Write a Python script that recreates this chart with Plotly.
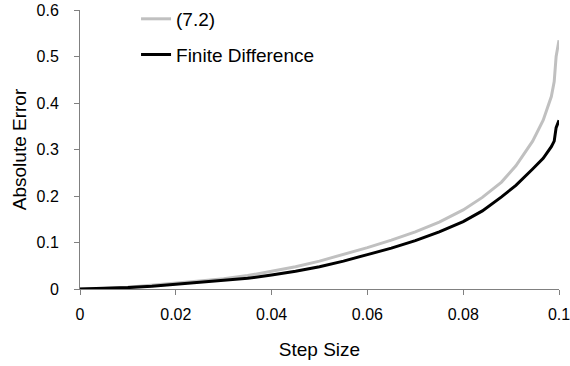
import plotly.graph_objects as go

step_size = [0, 0.005, 0.01, 0.015, 0.02, 0.025, 0.03, 0.035, 0.04, 0.045, 0.05,
             0.055, 0.06, 0.065, 0.07, 0.075, 0.08, 0.084, 0.088, 0.091, 0.0945,
             0.0967, 0.0984, 0.099, 0.0994, 0.1]
err_72 = [0, 0.001, 0.004, 0.008, 0.013, 0.017, 0.022, 0.029, 0.038, 0.048, 0.060,
          0.074, 0.089, 0.105, 0.123, 0.144, 0.170, 0.197, 0.230, 0.265, 0.318,
          0.363, 0.414, 0.446, 0.500, 0.535]
err_fd = [0, 0.001, 0.003, 0.006, 0.010, 0.014, 0.018, 0.023, 0.030, 0.038, 0.048,
          0.060, 0.074, 0.088, 0.104, 0.123, 0.145, 0.168, 0.198, 0.223, 0.258,
          0.281, 0.306, 0.318, 0.347, 0.363]

x_ticks = [0, 0.02, 0.04, 0.06, 0.08, 0.1]
x_tick_labels = ["0", "0.02", "0.04", "0.06", "0.08", "0.1"]
y_ticks = [0, 0.1, 0.2, 0.3, 0.4, 0.5, 0.6]
y_tick_labels = ["0", "0.1", "0.2", "0.3", "0.4", "0.5", "0.6"]

FONT = "Liberation Sans, Arial, sans-serif"

fig = go.Figure()
fig.add_trace(go.Scatter(x=step_size, y=err_72, mode="lines", name="(7.2)",
                         legendgroup="a",
                         line=dict(color="#c0c0c0", width=3)))
fig.add_trace(go.Scatter(x=step_size, y=err_fd, mode="lines", name="Finite Difference",
                         legendgroup="b",
                         line=dict(color="#000000", width=3)))

axis_common = dict(showgrid=False, zeroline=False, showline=True, linecolor="#808080",
                   linewidth=1, ticks="outside", ticklen=5, tickcolor="#808080",
                   automargin=False, ticklabeloverflow="allow",
                   tickfont=dict(family=FONT, size=16, color="#000"))

fig.update_layout(
    width=570, height=366,
    margin=dict(l=80, r=11, t=10, b=77, autoexpand=False),
    plot_bgcolor="white", paper_bgcolor="white",
    font=dict(family=FONT, size=16, color="#000"),
    showlegend=True,
    xaxis=dict(range=[0, 0.1000001], tickvals=x_ticks, ticktext=x_tick_labels,
               ticklabelstandoff=6,
               title=dict(text="Step Size", font=dict(family=FONT, size=19), standoff=20),
               **axis_common),
    yaxis=dict(range=[0, 0.6], tickvals=y_ticks, ticktext=y_tick_labels,
               ticklabelstandoff=12,
               title=dict(text="Absolute Error", font=dict(family=FONT, size=19), standoff=4),
               **axis_common),
    legend=dict(x=0.117, xref="paper", y=1.036, yref="paper",
                xanchor="left", yanchor="top",
                bgcolor="rgba(0,0,0,0)", tracegroupgap=8,
                font=dict(family=FONT, size=19, color="#000")),
)

fig.write_html("out.html", config={"displayModeBar": False},
               post_script="document.body.style.margin='0';document.body.style.padding='0';")
